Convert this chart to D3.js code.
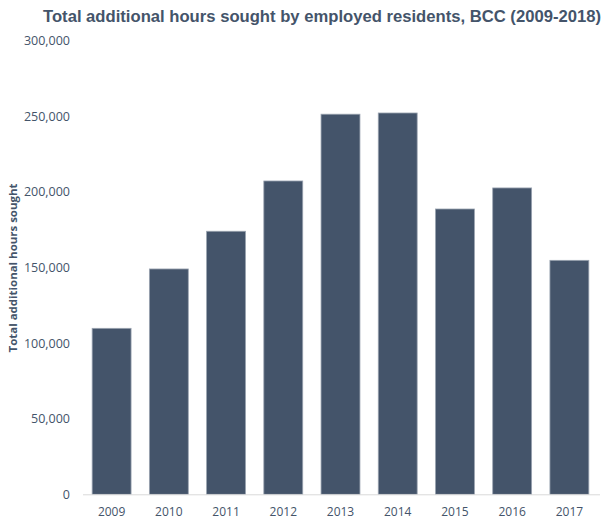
<!DOCTYPE html>
<html>
<head>
<meta charset="utf-8">
<script src="https://cdn.jsdelivr.net/npm/d3@7"></script>
<style>
  html, body { margin: 0; padding: 0; background: #ffffff; }
  svg { display: block; }
</style>
</head>
<body>
<svg id="chart" width="604" height="525"></svg>
<script>
const years = ["2009","2010","2011","2012","2013","2014","2015","2016","2017"];
const hoursSought = [109600, 148800, 173700, 206900, 251000, 251800, 188400, 202300, 154500];
const yTicks = [0, 50000, 100000, 150000, 200000, 250000, 300000];
const chartTitle = "Total additional hours sought by employed residents, BCC (2009-2018)";
const yAxisTitle = "Total additional hours sought";

const svg = d3.select("#chart");
const textColor = "#44546a";
const barColor = "#44546a";

const x = d3.scaleBand().domain(years).range([83, 598]).paddingInner(0.32).paddingOuter(0.16);
const y = d3.scaleLinear().domain([0, 300000]).range([494.3, 40]);

// title
svg.append("text")
  .attr("x", 43).attr("y", 22)
  .attr("textLength", 558).attr("lengthAdjust", "spacingAndGlyphs")
  .attr("font-family", "Liberation Sans, Arial, sans-serif")
  .attr("font-weight", "bold").attr("font-size", 16.5)
  .attr("fill", textColor)
  .text(chartTitle);

// y axis title
svg.append("text")
  .attr("transform", "translate(17,268) rotate(-90)")
  .attr("text-anchor", "middle")
  .attr("textLength", 169).attr("lengthAdjust", "spacingAndGlyphs")
  .attr("font-family", "Open Sans, sans-serif")
  .attr("font-weight", "bold").attr("font-size", 11)
  .attr("fill", textColor)
  .text(yAxisTitle);

// y axis labels
const yAxis = d3.axisLeft(y).tickValues(yTicks).tickSize(0).tickPadding(0)
  .tickFormat(d3.format(","));
const gy = svg.append("g").attr("transform", "translate(70,0)").call(yAxis);
gy.select(".domain").remove();
gy.selectAll("text")
  .attr("font-family", "Open Sans, sans-serif").attr("font-size", 12.5)
  .attr("fill", textColor).attr("dy", "0.35em");

// bars
svg.append("g").selectAll("rect").data(years).join("rect")
  .attr("x", d => x(d))
  .attr("y", (d, i) => y(hoursSought[i]))
  .attr("width", x.bandwidth())
  .attr("height", (d, i) => y(0) - y(hoursSought[i]))
  .attr("fill", barColor)
  .attr("stroke", "#9aa3b0").attr("stroke-width", 0.8);

// x axis
const xAxis = d3.axisBottom(x).tickSize(0).tickPadding(13);
const gx = svg.append("g").attr("transform", `translate(0,${y(0)})`).call(xAxis);
gx.select(".domain").remove();
gx.selectAll("text")
  .attr("font-family", "Open Sans, sans-serif").attr("font-size", 12)
  .attr("fill", textColor);

svg.append("line")
  .attr("x1", 83).attr("x2", 600)
  .attr("y1", y(0) + 0.5).attr("y2", y(0) + 0.5)
  .attr("stroke", "#d9d9d9").attr("stroke-width", 1);
</script>
</body>
</html>
